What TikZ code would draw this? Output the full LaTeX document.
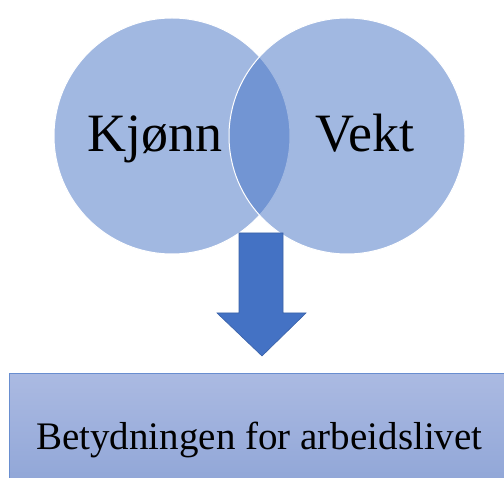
\documentclass[tikz,border=0pt]{standalone}
\usepackage{fontspec}
\setmainfont{Liberation Serif}
\usetikzlibrary{positioning}

\definecolor{accent}{HTML}{4472C4}
\definecolor{boxtop}{HTML}{ABBAE2}
\definecolor{boxbottom}{HTML}{8BA2D5}

\tikzset{
  set/.style={circle, minimum size=236pt, inner sep=0pt, fill=accent,
    fill opacity=0.5, draw=white, draw opacity=1, line width=1pt},
  setlabel/.style={anchor=base, font=\fontsize{54}{60}\selectfont},
  result/.style={anchor=north west, minimum width=500pt, minimum height=134pt,
    top color=boxtop, bottom color=boxbottom, draw=accent!80, line width=0.8pt,
    font=\fontsize{39}{46}\selectfont},
}

\begin{document}
\begin{tikzpicture}[x=1pt,y=-1pt]
  \useasboundingbox (0,0) rectangle (504,478);
  \clip (0,0) rectangle (504,478);

  % the two overlapping sets
  \node (kjonn) [set] at (172,136) {};
  \node (vekt) [set, right=-62pt of kjonn] {};
  \node (kjonnlabel) [setlabel] at ([xshift=-17pt,yshift=-16pt]kjonn.center) {Kjønn};
  \node (vektlabel) [setlabel] at ([xshift=18pt,yshift=-16pt]vekt.center) {Vekt};

  % block arrow down to the result
  \filldraw[fill=accent, draw=accent!85!black, line width=0.6pt]
    (239,233) -- (283,233) -- (283,313) -- (306,313) -- (262,356)
    -- (217,313) -- (239,313) -- cycle;

  \node (arbeid) [result] at (9,373) {Betydningen for arbeidslivet};
\end{tikzpicture}
\end{document}
